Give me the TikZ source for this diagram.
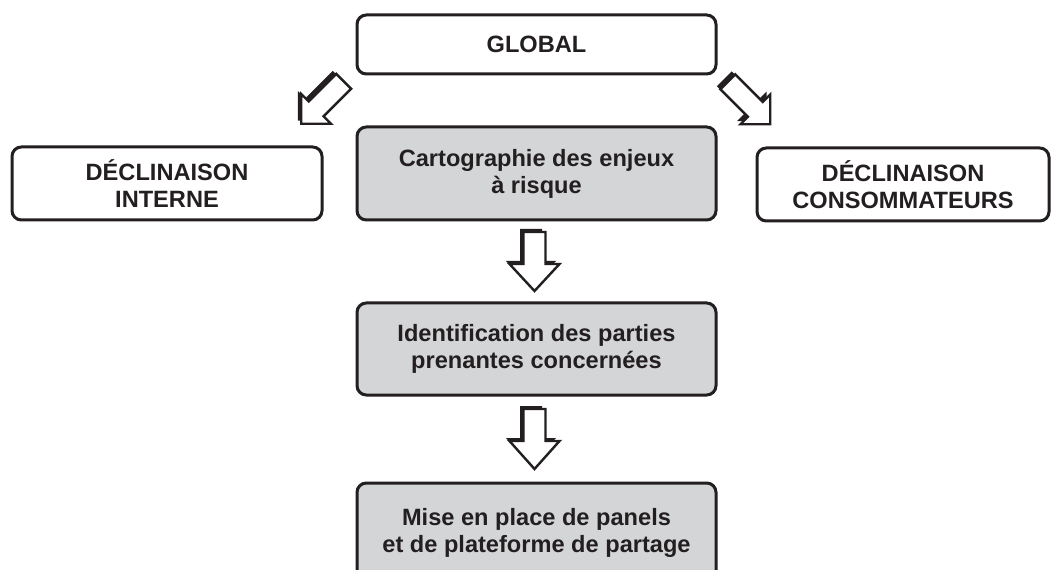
\documentclass[tikz,border=0pt]{standalone}
\usepackage{fontspec}
\setmainfont{Liberation Sans}
\usetikzlibrary{calc}
\definecolor{boxgray}{RGB}{212,213,215}
\definecolor{ink}{RGB}{35,31,32}
\newcommand\blockarrow[6]{% center, angle, length, head length, head half width, shaft half width
  \begin{scope}[shift={#1}]
    \begin{scope}[shift={(-3.5,-3)},rotate=#2]
      \fill[ink] ({-#3/2},{-#6}) -- ({#3/2-#4},{-#6}) -- ({#3/2-#4},{-#5}) -- ({#3/2},0)
        -- ({#3/2-#4},{#5}) -- ({#3/2-#4},{#6}) -- ({-#3/2},{#6}) -- cycle;
    \end{scope}
    \begin{scope}[rotate=#2]
      \draw[ink,fill=white,line width=1.8pt,line join=miter] ({-#3/2},{-#6}) -- ({#3/2-#4},{-#6}) -- ({#3/2-#4},{-#5}) -- ({#3/2},0)
        -- ({#3/2-#4},{#5}) -- ({#3/2-#4},{#6}) -- ({-#3/2},{#6}) -- cycle;
    \end{scope}
  \end{scope}}
\begin{document}
\begin{tikzpicture}[x=0.75pt,y=-0.75pt,
  box/.style={draw=ink,line width=2.25pt,rounded corners=7pt,fill=white,
    text=ink,align=center,inner sep=0pt,
    font=\fontsize{17.7}{20.2}\selectfont\bfseries},
  graybox/.style={box,fill=boxgray}]
\useasboundingbox (0,0) rectangle (1053,570);
\begin{scope}
\clip (0,0) rectangle (1053,570);
\node[box,minimum width=269.25pt,minimum height=44.25pt] (global) at (536.5,44.5) {GLOBAL};
\node[graybox,minimum width=269.25pt,minimum height=69.75pt] (carto) at (536.5,173.5) {Cartographie des enjeux\\à risque};
\node[box,minimum width=232.5pt,minimum height=54.75pt] (interne) at (167,183.5) {DÉCLINAISON\\INTERNE};
\node[box,minimum width=219pt,minimum height=54.75pt] (conso) at (903,184.5) {DÉCLINAISON\\CONSOMMATEURS};
\node[graybox,minimum width=269.25pt,minimum height=69pt] (ident) at (536.5,349) {Identification des parties\\prenantes concernées};
\node[graybox,minimum width=269.25pt,minimum height=75pt] (mise) at (536.5,533) {Mise en place de panels\\et de plateforme de partage};
\end{scope}
\blockarrow{($(global.south west)+(-33,27)$)}{225}{60}{21}{21}{10.5}
\blockarrow{($(global.south east)+(31.5,27.5)$)}{-45}{60}{21}{21}{10.5}
\blockarrow{($(carto.south)!0.5!(ident.north)+(-2,0)$)}{-90}{59}{27}{25}{11}
\blockarrow{($(ident.south)!0.5!(mise.north)+(-2,0)$)}{-90}{60}{28}{25}{11}
\end{tikzpicture}
\end{document}
